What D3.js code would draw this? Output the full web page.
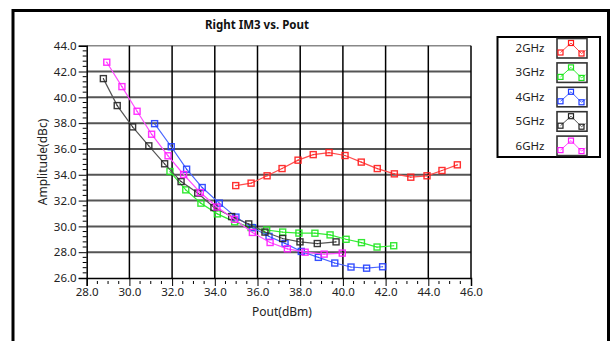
<!DOCTYPE html>
<html><head><meta charset="utf-8">
<script src="https://cdn.jsdelivr.net/npm/d3@7"></script>
<style>html,body{margin:0;padding:0;background:#fff;}svg{display:block;}</style>
</head><body>
<script>
// ---- data ----
const seriesNames = ["2GHz","3GHz","4GHz","5GHz","6GHz"];
const pout2 = [34.98,35.70,36.45,37.15,37.90,38.61,39.35,40.10,40.86,41.61,42.41,43.18,43.94,44.64,45.36];
const im3_2 = [33.16,33.35,33.92,34.48,35.13,35.56,35.72,35.49,34.98,34.48,34.07,33.81,33.92,34.33,34.77];
const pout3 = [31.90,32.64,33.35,34.12,34.93,35.70,36.43,37.18,37.94,38.69,39.40,40.15,40.87,41.60,42.38];
const im3_3 = [34.25,32.83,31.80,30.97,30.35,29.91,29.72,29.56,29.48,29.47,29.34,29.00,28.74,28.40,28.50];
const pout4 = [31.18,31.96,32.68,33.41,34.21,34.99,35.77,36.54,37.29,38.05,38.85,39.62,40.38,41.11,41.86];
const im3_4 = [37.96,36.17,34.43,33.01,31.80,30.72,29.90,29.22,28.68,28.06,27.60,27.16,26.85,26.76,26.87];
const pout5 = [28.78,29.43,30.15,30.91,31.65,32.42,33.20,33.96,34.79,35.59,36.35,37.18,37.99,38.80,39.68];
const im3_5 = [41.45,39.36,37.71,36.24,34.85,33.47,32.58,31.46,30.76,30.19,29.56,29.06,28.80,28.67,28.80];
const pout6 = [28.94,29.65,30.36,31.04,31.81,32.54,33.32,34.10,34.92,35.76,36.59,37.40,38.23,39.12,39.97];
const im3_6 = [42.72,40.83,38.92,37.14,35.47,34.02,32.62,31.50,30.55,29.53,28.75,28.26,28.00,27.85,27.93];
const xTicks = [28,30,32,34,36,38,40,42,44,46];
const yTicks = [26,28,30,32,34,36,38,40,42,44];

const seriesX = [pout2,pout3,pout4,pout5,pout6];
const seriesY = [im3_2,im3_3,im3_4,im3_5,im3_6];
const colors = ["#ff1a1a","#1ee61e","#1f3cff","#222222","#ff1aff"];
const lineColors = ["#ff4d4d","#33ee33","#4a66ff","#555555","#ff4dff"];

const W = 614, H = 341;
const svg = d3.select("body").append("svg").attr("width",W).attr("height",H);
const font = "'Noto Sans', sans-serif";

// outer frame
svg.append("rect").attr("x",13).attr("y",10.5).attr("width",595.5).attr("height",345)
  .attr("fill","none").attr("stroke","#000").attr("stroke-width",3);

const x = d3.scaleLinear().domain([28,46]).range([86.7,471]);
const y = d3.scaleLinear().domain([26,44]).range([278,45.7]);

// grid
const g = svg.append("g");
g.selectAll(".hg").data(yTicks.slice(1)).join("line")
  .attr("x1",x(28)).attr("x2",x(46)).attr("y1",d=>y(d)).attr("y2",d=>y(d))
  .attr("stroke",d=>d===44?"#888":"#555").attr("stroke-width",d=>d===44?1.5:2);
g.selectAll(".vg").data(xTicks.slice(1)).join("line")
  .attr("y1",y(44)).attr("y2",y(26)).attr("x1",d=>x(d)).attr("x2",d=>x(d))
  .attr("stroke","#000").attr("stroke-width",1.5);

// axes
const xMinor = d3.range(28,46.01,0.5).filter(v=>Math.abs(v-Math.round(v/2)*2)>1e-6);
const yMinor = d3.range(26,44.01,0.4).filter(v=>Math.abs(v-Math.round(v/2)*2)>1e-6);
const xAxis = svg.append("g").attr("transform",`translate(0,${y(26)})`)
  .call(d3.axisBottom(x).tickValues(xTicks).tickFormat(d3.format(".1f")).tickSize(8).tickPadding(2));
const yAxis = svg.append("g").attr("transform",`translate(${x(28)},0)`)
  .call(d3.axisLeft(y).tickValues(yTicks).tickFormat(d3.format(".1f")).tickSize(8).tickPadding(2));
[xAxis,yAxis].forEach(a=>{
  a.select(".domain").attr("stroke","#000").attr("stroke-width",1.5);
  a.selectAll(".tick line").attr("stroke","#000");
  a.selectAll("text").attr("font-family",font).attr("font-size","11.5px").attr("fill","#222");
});
svg.append("g").selectAll("line").data(xMinor).join("line")
  .attr("x1",d=>x(d)).attr("x2",d=>x(d)).attr("y1",y(26)+3).attr("y2",y(26)+6)
  .attr("stroke","#000").attr("stroke-width",1);
svg.append("g").selectAll("line").data(yMinor).join("line")
  .attr("y1",d=>y(d)).attr("y2",d=>y(d)).attr("x1",x(28)-4).attr("x2",x(28))
  .attr("stroke","#000").attr("stroke-width",1);

// titles
svg.append("text").attr("x",257).attr("y",29).attr("text-anchor","middle")
  .attr("font-family",font).attr("font-weight","bold").attr("font-size","11.5px").attr("fill","#111")
  .text("Right IM3 vs. Pout");
svg.append("text").attr("x",282).attr("y",316).attr("text-anchor","middle")
  .attr("font-family",font).attr("font-size","12px").attr("fill","#222").text("Pout(dBm)");
svg.append("text").attr("transform","translate(47,162) rotate(-90)").attr("text-anchor","middle")
  .attr("font-family",font).attr("font-size","12px").attr("fill","#222").text("Amplitude(dBc)");

// series
const line = d3.line().x(d=>x(d[0])).y(d=>y(d[1]));
seriesNames.forEach((name,i)=>{
  const pts = seriesX[i].map((v,j)=>[v,seriesY[i][j]]);
  const sg = svg.append("g");
  sg.append("path").datum(pts).attr("d",line).attr("fill","none")
    .attr("stroke",lineColors[i]).attr("stroke-width",1.2);
  sg.selectAll("rect").data(pts).join("rect")
    .attr("x",d=>x(d[0])-3).attr("y",d=>y(d[1])-3).attr("width",6).attr("height",6)
    .attr("fill","none").attr("stroke",colors[i]).attr("stroke-width",1.4).attr("stroke-opacity",0.9);
  sg.selectAll("circle").data(pts).join("circle")
    .attr("cx",d=>x(d[0])).attr("cy",d=>y(d[1])).attr("r",0.6).attr("fill",colors[i]);
});

// legend
const lg = svg.append("g");
lg.append("rect").attr("x",497.5).attr("y",37).attr("width",102.5).attr("height",120)
  .attr("fill","#fff").attr("stroke","#000").attr("stroke-width",2);
seriesNames.forEach((name,i)=>{
  const top = 38.5 + i*24.4;
  lg.append("text").attr("x",544.5).attr("y",top+13.5).attr("text-anchor","end")
    .attr("font-family",font).attr("font-size","11.5px").attr("fill","#222").text(name);
  const bx = 557, by = top;
  lg.append("rect").attr("x",bx).attr("y",by).attr("width",30).attr("height",19.5)
    .attr("fill","#fff").attr("stroke","#333").attr("stroke-width",1.6);
  const ipts = [[bx+3.5,by+14],[bx+14,by+4.5],[bx+24.5,by+15],[bx+28.5,by+12]];
  lg.append("path").attr("d",d3.line()(ipts)).attr("fill","none").attr("stroke",lineColors[i]).attr("stroke-width",1);
  ipts.slice(0,3).forEach(p=>{
    lg.append("rect").attr("x",p[0]-2.5).attr("y",p[1]-2.5).attr("width",5).attr("height",5)
      .attr("fill","none").attr("stroke",colors[i]).attr("stroke-width",1.2);
  });
});
</script>
</body></html>
